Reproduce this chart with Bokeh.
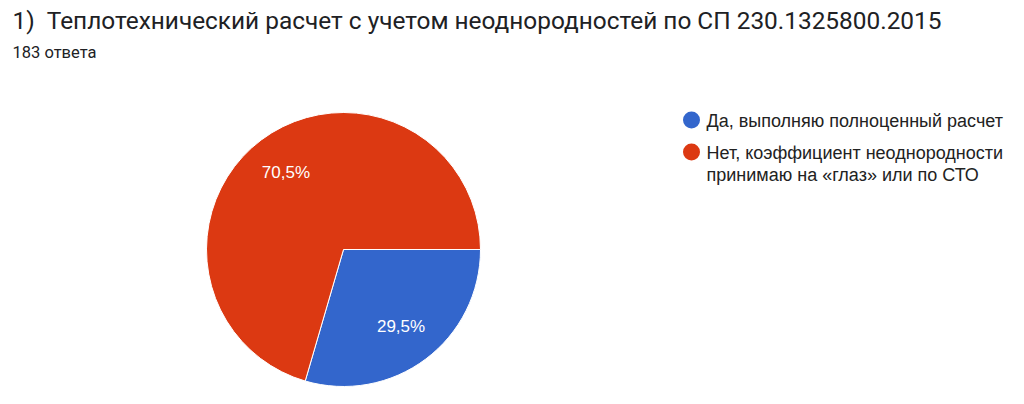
import math
from bokeh.plotting import figure
from bokeh.models import Range1d, ColumnDataSource
from bokeh.core.properties import value
from bokeh.embed import file_html
from bokeh.resources import INLINE

title = "1)\u00a0\u00a0Теплотехнический расчет с учетом неоднородностей по СП 230.1325800.2015"
subtitle = "183 ответа"
categories = ["Да, выполняю полноценный расчет",
              "Нет, коэффициент неоднородности\nпринимаю на «глаз» или по СТО"]
counts = [54, 129]
colors = ["#3366cc", "#dc3912"]

W, H = 1008, 388
p = figure(width=W, height=H, output_backend="svg", toolbar_location=None,
           x_range=Range1d(0, W), y_range=Range1d(0, H), min_border=0)
p.axis.visible = False
p.grid.visible = False
p.outline_line_color = None
p.background_fill_color = "white"

total = sum(counts)
fracs = [c / total for c in counts]
starts, ends, mids = [], [], []
a = 0.0
for f in fracs:
    s = a
    e = a - 2 * math.pi * f
    starts.append(s)
    ends.append(e)
    mids.append((s + e) / 2)
    a = e

cx, cy, r = 343, 139, 137
src = ColumnDataSource(dict(start=starts, end=ends, color=colors))
p.wedge(x=cx, y=cy, radius=r, start_angle="start", end_angle="end",
        direction="clock", fill_color="color", line_color="white", line_width=1,
        source=src)

lab_r = 0.7 * r
labels = [f"{f*100:.1f}%".replace(".", ",") for f in fracs]
p.text(x=[cx + lab_r * math.cos(m) for m in mids],
       y=[cy + lab_r * math.sin(m) for m in mids],
       text=labels, text_color="white", text_font=value("Liberation Sans"),
       text_font_size="17px", text_align="center", text_baseline="middle")

# title & subtitle
p.text(x=[12], y=[368], text=[title], text_color="#202124", text_font=value("Roboto"),
       text_font_size="24.4px", text_baseline="alphabetic", text_align="left")
p.text(x=[12], y=[336], text=[subtitle], text_color="#202124", text_font=value("Roboto"),
       text_font_size="16.5px", text_baseline="alphabetic", text_align="left")

# legend
leg_y = [268.5, 236.5]
p.scatter(x=[691, 691], y=leg_y, size=17, marker="circle", fill_color=colors, line_color=None)
p.text(x=[706, 706], y=[y + 9.5 for y in leg_y], text=categories, text_color="#222222",
       text_font=value("Liberation Sans"), text_font_size="18px", text_baseline="top",
       text_align="left", text_line_height=1.1)

open("out.html", "w").write(file_html(p, INLINE))
